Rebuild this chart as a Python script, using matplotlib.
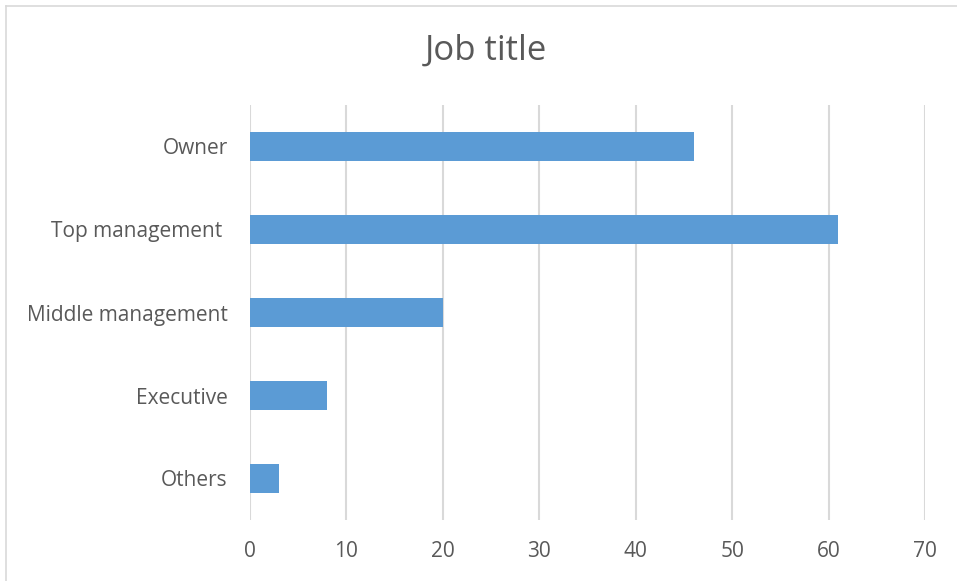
import matplotlib
matplotlib.use("Agg")
import matplotlib.pyplot as plt
from matplotlib.lines import Line2D

# ── Data ──────────────────────────────────────────────────────────────────────
categories = ["Owner", "Top management ", "Middle management", "Executive", "Others"]
counts = [46, 61, 20, 8, 3]
x_ticks = [0, 10, 20, 30, 40, 50, 60, 70]

BAR_COLOR = "#5B9BD5"
GRID_COLOR = "#D9D9D9"
TEXT_COLOR = "#595959"

plt.rcParams["font.family"] = ["Open Sans", "DejaVu Sans"]

fig = plt.figure(figsize=(9.57, 5.81), dpi=100)
fig.patch.set_facecolor("white")
ax = fig.add_axes([250 / 957, 1 - 520 / 581, 675 / 957, 415 / 581])

pos = list(range(len(categories)))
ax.barh(pos, counts, height=0.35, color=BAR_COLOR, zorder=2)
ax.set_ylim(len(categories) - 0.5, -0.5)
ax.set_xlim(0, 70)
ax.set_xticks(x_ticks)
ax.set_yticks(pos)
ax.set_yticklabels(categories)

ax.grid(axis="x", color=GRID_COLOR, linewidth=1.5, zorder=0)
for s in ax.spines.values():
    s.set_visible(False)
ax.tick_params(axis="both", length=0, labelsize=15, labelcolor=TEXT_COLOR)
ax.tick_params(axis="y", pad=16)
ax.tick_params(axis="x", pad=15)

fig.text(486 / 957, 1 - 51 / 581, "Job title", ha="center", va="center",
         fontsize=25, color=TEXT_COLOR)

# chart-area border (only top and left edges are inside the crop)
bx, by = 6 / 957, 1 - 6 / 581
fig.add_artist(Line2D([bx, 1], [by, by], transform=fig.transFigure,
                      color=GRID_COLOR, linewidth=1.2))
fig.add_artist(Line2D([bx, bx], [0, by], transform=fig.transFigure,
                      color=GRID_COLOR, linewidth=1.2))

fig.savefig("out.png", dpi=100, facecolor="white")
